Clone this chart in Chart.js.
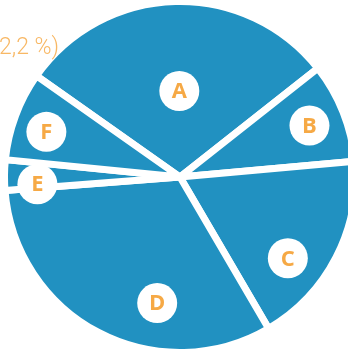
<!DOCTYPE html>
<html>
<head>
<meta charset="utf-8">
<script src="https://cdn.jsdelivr.net/npm/chart.js@4"></script>
<style>
  html, body { margin: 0; padding: 0; background: #fff; overflow: hidden; }
  body { width: 348px; height: 349px; position: relative; }
  #wrap { position: absolute; left: 1px; top: -2px; width: 358px; height: 358px; }
  #note {
    position: absolute; left: -1px; top: 33px;
    font-family: Roboto, sans-serif; font-weight: 300; font-size: 23px;
    color: #f8b865; white-space: nowrap; z-index: 2;
  }
</style>
</head>
<body>
<div id="note">2,2 %)</div>
<div id="wrap"><canvas id="pieChart"></canvas></div>
<script>
// slice names and shares (%), clockwise from the A slice
const categories = ['A', 'B', 'C', 'D', 'E', 'F'];
const shares = [29.6, 9.2, 18.0, 32.2, 2.8, 8.2];

// where each badge sits inside its slice: [fraction of the angle, fraction of the radius]
const badgePlacement = [
    [0.51, 0.50],
    [0.50, 0.81],
    [0.65, 0.785],
    [0.35, 0.745],
    [0.15, 0.83],
    [0.44, 0.82]
];

const badgePlugin = {
    id: 'badges',
    afterDatasetsDraw(chart) {
        const ctx = chart.ctx;
        const arcs = chart.getDatasetMeta(0).data;
        ctx.save();
        arcs.forEach((arc, i) => {
            const p = arc.getProps(['x', 'y', 'startAngle', 'endAngle', 'outerRadius'], true);
            const [fa, fr] = badgePlacement[i];
            const a = p.startAngle + (p.endAngle - p.startAngle) * fa;
            const r = (p.outerRadius - 3.5) * fr;
            const x = p.x + Math.cos(a) * r;
            const y = p.y + Math.sin(a) * r;
            ctx.beginPath();
            ctx.arc(x, y, 20, 0, Math.PI * 2);
            ctx.fillStyle = '#ffffff';
            ctx.fill();
            ctx.fillStyle = '#f6a945';
            ctx.font = 'bold 22px "Open Sans", sans-serif';
            ctx.textAlign = 'center';
            ctx.textBaseline = 'middle';
            ctx.fillText(categories[i], x, y + 1);
        });
        ctx.restore();
    }
};

function initializePieChart() {
    const ctx = document.getElementById('pieChart').getContext('2d');
    new Chart(ctx, {
        type: 'pie',
        data: {
            labels: categories,
            datasets: [{
                data: shares,
                backgroundColor: '#2191c1',
                borderColor: '#ffffff',
                borderWidth: 7
            }]
        },
        options: {
            responsive: true,
            maintainAspectRatio: false,
            animation: false,
            rotation: -54.8,
            layout: { padding: 0 },
            plugins: {
                legend: { display: false },
                tooltip: { enabled: false }
            }
        },
        plugins: [badgePlugin]
    });
}

document.addEventListener('DOMContentLoaded', () => {
    initializePieChart();
});
</script>
</body>
</html>
